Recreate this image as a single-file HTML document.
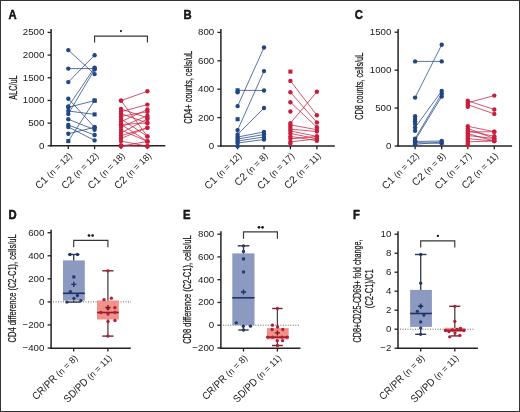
<!DOCTYPE html>
<html><head><meta charset="utf-8"><style>
html,body{margin:0;padding:0;background:#fff;}
svg{display:block;will-change:transform;}
text{font-family:"Liberation Sans", sans-serif;fill:#1a1a1a;}
.lt{stroke:#000;stroke-width:0.45;}
.yl{stroke:#1a1a1a;stroke-width:0.25;}
</style></head><body>
<svg width="520" height="412" viewBox="0 0 520 412">
<rect x="0" y="0" width="520" height="412" fill="#fff"/>
<line x1="51.1" y1="29" x2="51.1" y2="146.5" stroke="#222" stroke-width="1.5"/>
<line x1="50.4" y1="145.8" x2="165.3" y2="145.8" stroke="#222" stroke-width="1.5"/>
<line x1="68.3" y1="145.8" x2="68.3" y2="149.1" stroke="#222" stroke-width="1.3"/>
<line x1="94.6" y1="145.8" x2="94.6" y2="149.1" stroke="#222" stroke-width="1.3"/>
<line x1="121" y1="145.8" x2="121" y2="149.1" stroke="#222" stroke-width="1.3"/>
<line x1="147.4" y1="145.8" x2="147.4" y2="149.1" stroke="#222" stroke-width="1.3"/>
<line x1="220.9" y1="29" x2="220.9" y2="146.7" stroke="#222" stroke-width="1.5"/>
<line x1="220.2" y1="146" x2="334.8" y2="146" stroke="#222" stroke-width="1.5"/>
<line x1="237.6" y1="146" x2="237.6" y2="149.3" stroke="#222" stroke-width="1.3"/>
<line x1="264" y1="146" x2="264" y2="149.3" stroke="#222" stroke-width="1.3"/>
<line x1="290.4" y1="146" x2="290.4" y2="149.3" stroke="#222" stroke-width="1.3"/>
<line x1="316.9" y1="146" x2="316.9" y2="149.3" stroke="#222" stroke-width="1.3"/>
<line x1="398.1" y1="28.9" x2="398.1" y2="146.7" stroke="#222" stroke-width="1.5"/>
<line x1="397.4" y1="146" x2="512.1" y2="146" stroke="#222" stroke-width="1.5"/>
<line x1="415.1" y1="146" x2="415.1" y2="149.3" stroke="#222" stroke-width="1.3"/>
<line x1="441.7" y1="146" x2="441.7" y2="149.3" stroke="#222" stroke-width="1.3"/>
<line x1="467.8" y1="146" x2="467.8" y2="149.3" stroke="#222" stroke-width="1.3"/>
<line x1="494.3" y1="146" x2="494.3" y2="149.3" stroke="#222" stroke-width="1.3"/>
<line x1="51.1" y1="229.7" x2="51.1" y2="348.9" stroke="#222" stroke-width="1.5"/>
<line x1="50.4" y1="348.2" x2="130.8" y2="348.2" stroke="#222" stroke-width="1.5"/>
<line x1="73.7" y1="348.2" x2="73.7" y2="351.5" stroke="#222" stroke-width="1.3"/>
<line x1="107.9" y1="348.2" x2="107.9" y2="351.5" stroke="#222" stroke-width="1.3"/>
<line x1="220.9" y1="231.2" x2="220.9" y2="348.9" stroke="#222" stroke-width="1.5"/>
<line x1="220.2" y1="348.2" x2="300.5" y2="348.2" stroke="#222" stroke-width="1.5"/>
<line x1="243.5" y1="348.2" x2="243.5" y2="351.5" stroke="#222" stroke-width="1.3"/>
<line x1="277.4" y1="348.2" x2="277.4" y2="351.5" stroke="#222" stroke-width="1.3"/>
<line x1="398" y1="231.2" x2="398" y2="348.9" stroke="#222" stroke-width="1.5"/>
<line x1="397.3" y1="348.2" x2="477.9" y2="348.2" stroke="#222" stroke-width="1.5"/>
<line x1="420.7" y1="348.2" x2="420.7" y2="351.5" stroke="#222" stroke-width="1.3"/>
<line x1="454.8" y1="348.2" x2="454.8" y2="351.5" stroke="#222" stroke-width="1.3"/>
<text x="8.4" y="18.5" font-size="12.9" font-weight="bold" text-anchor="start" class="lt" textLength="8.15" lengthAdjust="spacingAndGlyphs">A</text>
<line x1="47.6" y1="145.8" x2="51.1" y2="145.8" stroke="#222" stroke-width="1.3"/>
<text x="44.4" y="148.7" font-size="9.7" text-anchor="end" >0</text>
<line x1="47.6" y1="123.12" x2="51.1" y2="123.12" stroke="#222" stroke-width="1.3"/>
<text x="44.4" y="126.02" font-size="9.7" text-anchor="end" >500</text>
<line x1="47.6" y1="100.44" x2="51.1" y2="100.44" stroke="#222" stroke-width="1.3"/>
<text x="44.4" y="103.34" font-size="9.7" text-anchor="end" >1000</text>
<line x1="47.6" y1="77.76" x2="51.1" y2="77.76" stroke="#222" stroke-width="1.3"/>
<text x="44.4" y="80.66" font-size="9.7" text-anchor="end" >1500</text>
<line x1="47.6" y1="55.08" x2="51.1" y2="55.08" stroke="#222" stroke-width="1.3"/>
<text x="44.4" y="57.98" font-size="9.7" text-anchor="end" >2000</text>
<line x1="47.6" y1="32.4" x2="51.1" y2="32.4" stroke="#222" stroke-width="1.3"/>
<text x="44.4" y="35.3" font-size="9.7" text-anchor="end" >2500</text>
<text transform="translate(16.8,87.55) rotate(-90)" font-size="10.5" text-anchor="middle" textLength="24.3" lengthAdjust="spacingAndGlyphs" class="yl">ALC/uL</text>
<path d="M94.6 42.6V36.1H147.4V42.6" fill="none" stroke="#363636" stroke-width="1.15"/>
<circle cx="120.9" cy="31.1" r="1.05" fill="#111"/>
<line x1="68.3" y1="50.1" x2="94.6" y2="74.1" stroke="#214684" stroke-width="0.75"/>
<line x1="68.3" y1="68.6" x2="94.6" y2="68.6" stroke="#214684" stroke-width="0.75"/>
<line x1="68.3" y1="82.1" x2="94.6" y2="55.2" stroke="#214684" stroke-width="0.75"/>
<line x1="68.3" y1="98.7" x2="94.6" y2="127.3" stroke="#214684" stroke-width="0.75"/>
<line x1="68.3" y1="107.3" x2="94.6" y2="100.6" stroke="#214684" stroke-width="0.75"/>
<line x1="68.3" y1="106.5" x2="94.6" y2="67.6" stroke="#214684" stroke-width="0.75"/>
<line x1="68.3" y1="113.9" x2="94.6" y2="69.5" stroke="#214684" stroke-width="0.75"/>
<line x1="68.3" y1="111" x2="94.6" y2="114.4" stroke="#214684" stroke-width="0.75"/>
<line x1="68.3" y1="119.3" x2="94.6" y2="129.7" stroke="#214684" stroke-width="0.75"/>
<line x1="68.3" y1="125" x2="94.6" y2="135" stroke="#214684" stroke-width="0.75"/>
<line x1="68.3" y1="127" x2="94.6" y2="140.4" stroke="#214684" stroke-width="0.75"/>
<line x1="68.3" y1="133.7" x2="94.6" y2="127.3" stroke="#214684" stroke-width="0.75"/>
<line x1="68.3" y1="141.1" x2="94.6" y2="100.6" stroke="#214684" stroke-width="0.75"/>
<circle cx="68.3" cy="50.1" r="2.2" fill="#214684"/>
<circle cx="94.6" cy="74.1" r="2.2" fill="#214684"/>
<circle cx="68.3" cy="68.6" r="2.2" fill="#214684"/>
<circle cx="94.6" cy="68.6" r="2.2" fill="#214684"/>
<circle cx="68.3" cy="82.1" r="2.2" fill="#214684"/>
<circle cx="94.6" cy="55.2" r="2.2" fill="#214684"/>
<circle cx="68.3" cy="98.7" r="2.2" fill="#214684"/>
<circle cx="94.6" cy="127.3" r="2.2" fill="#214684"/>
<circle cx="68.3" cy="107.3" r="2.2" fill="#214684"/>
<rect x="92.56" y="98.56" width="4.07" height="4.07" fill="#214684"/>
<circle cx="68.3" cy="106.5" r="2.2" fill="#214684"/>
<circle cx="94.6" cy="67.6" r="2.2" fill="#214684"/>
<circle cx="68.3" cy="113.9" r="2.2" fill="#214684"/>
<circle cx="94.6" cy="69.5" r="2.2" fill="#214684"/>
<circle cx="68.3" cy="111" r="2.2" fill="#214684"/>
<rect x="92.56" y="112.37" width="4.07" height="4.07" fill="#214684"/>
<circle cx="68.3" cy="119.3" r="2.2" fill="#214684"/>
<circle cx="94.6" cy="129.7" r="2.2" fill="#214684"/>
<circle cx="68.3" cy="125" r="2.2" fill="#214684"/>
<circle cx="94.6" cy="135" r="2.2" fill="#214684"/>
<circle cx="68.3" cy="127" r="2.2" fill="#214684"/>
<circle cx="94.6" cy="140.4" r="2.2" fill="#214684"/>
<circle cx="68.3" cy="133.7" r="2.2" fill="#214684"/>
<circle cx="94.6" cy="127.3" r="2.2" fill="#214684"/>
<rect x="66.27" y="139.06" width="4.07" height="4.07" fill="#214684"/>
<rect x="92.56" y="98.56" width="4.07" height="4.07" fill="#214684"/>
<line x1="121" y1="100.6" x2="147.4" y2="91.3" stroke="#c81e3e" stroke-width="0.75"/>
<line x1="121" y1="100.6" x2="147.4" y2="136.4" stroke="#c81e3e" stroke-width="0.75"/>
<line x1="121" y1="109" x2="147.4" y2="117.8" stroke="#c81e3e" stroke-width="0.75"/>
<line x1="121" y1="111.7" x2="147.4" y2="104.6" stroke="#c81e3e" stroke-width="0.75"/>
<line x1="121" y1="113.7" x2="147.4" y2="123" stroke="#c81e3e" stroke-width="0.75"/>
<line x1="121" y1="116.4" x2="147.4" y2="111.7" stroke="#c81e3e" stroke-width="0.75"/>
<line x1="121" y1="119" x2="147.4" y2="136.4" stroke="#c81e3e" stroke-width="0.75"/>
<line x1="121" y1="121.7" x2="147.4" y2="109.4" stroke="#c81e3e" stroke-width="0.75"/>
<line x1="121" y1="124.4" x2="147.4" y2="141.4" stroke="#c81e3e" stroke-width="0.75"/>
<line x1="121" y1="127" x2="147.4" y2="115.7" stroke="#c81e3e" stroke-width="0.75"/>
<line x1="121" y1="130" x2="147.4" y2="141.4" stroke="#c81e3e" stroke-width="0.75"/>
<line x1="121" y1="133" x2="147.4" y2="119" stroke="#c81e3e" stroke-width="0.75"/>
<line x1="121" y1="135.7" x2="147.4" y2="127.7" stroke="#c81e3e" stroke-width="0.75"/>
<line x1="121" y1="138.4" x2="147.4" y2="127.7" stroke="#c81e3e" stroke-width="0.75"/>
<line x1="121" y1="141.1" x2="147.4" y2="146.3" stroke="#c81e3e" stroke-width="0.75"/>
<line x1="121" y1="146.3" x2="147.4" y2="141.4" stroke="#c81e3e" stroke-width="0.75"/>
<line x1="121" y1="145.1" x2="147.4" y2="146.3" stroke="#c81e3e" stroke-width="0.75"/>
<line x1="121" y1="124.4" x2="147.4" y2="123" stroke="#c81e3e" stroke-width="0.75"/>
<circle cx="121" cy="100.6" r="2.2" fill="#c81e3e"/>
<circle cx="147.4" cy="91.3" r="2.2" fill="#c81e3e"/>
<circle cx="121" cy="100.6" r="2.2" fill="#c81e3e"/>
<circle cx="147.4" cy="136.4" r="2.2" fill="#c81e3e"/>
<circle cx="121" cy="109" r="2.2" fill="#c81e3e"/>
<circle cx="147.4" cy="117.8" r="2.2" fill="#c81e3e"/>
<circle cx="121" cy="111.7" r="2.2" fill="#c81e3e"/>
<circle cx="147.4" cy="104.6" r="2.2" fill="#c81e3e"/>
<circle cx="121" cy="113.7" r="2.2" fill="#c81e3e"/>
<circle cx="147.4" cy="123" r="2.2" fill="#c81e3e"/>
<circle cx="121" cy="116.4" r="2.2" fill="#c81e3e"/>
<circle cx="147.4" cy="111.7" r="2.2" fill="#c81e3e"/>
<circle cx="121" cy="119" r="2.2" fill="#c81e3e"/>
<circle cx="147.4" cy="136.4" r="2.2" fill="#c81e3e"/>
<circle cx="121" cy="121.7" r="2.2" fill="#c81e3e"/>
<circle cx="147.4" cy="109.4" r="2.2" fill="#c81e3e"/>
<circle cx="121" cy="124.4" r="2.2" fill="#c81e3e"/>
<circle cx="147.4" cy="141.4" r="2.2" fill="#c81e3e"/>
<circle cx="121" cy="127" r="2.2" fill="#c81e3e"/>
<circle cx="147.4" cy="115.7" r="2.2" fill="#c81e3e"/>
<circle cx="121" cy="130" r="2.2" fill="#c81e3e"/>
<circle cx="147.4" cy="141.4" r="2.2" fill="#c81e3e"/>
<circle cx="121" cy="133" r="2.2" fill="#c81e3e"/>
<circle cx="147.4" cy="119" r="2.2" fill="#c81e3e"/>
<circle cx="121" cy="135.7" r="2.2" fill="#c81e3e"/>
<circle cx="147.4" cy="127.7" r="2.2" fill="#c81e3e"/>
<circle cx="121" cy="138.4" r="2.2" fill="#c81e3e"/>
<circle cx="147.4" cy="127.7" r="2.2" fill="#c81e3e"/>
<circle cx="121" cy="141.1" r="2.2" fill="#c81e3e"/>
<circle cx="147.4" cy="146.3" r="2.2" fill="#c81e3e"/>
<circle cx="121" cy="146.3" r="2.2" fill="#c81e3e"/>
<circle cx="147.4" cy="141.4" r="2.2" fill="#c81e3e"/>
<circle cx="121" cy="145.1" r="2.2" fill="#c81e3e"/>
<circle cx="147.4" cy="146.3" r="2.2" fill="#c81e3e"/>
<circle cx="121" cy="124.4" r="2.2" fill="#c81e3e"/>
<circle cx="147.4" cy="123" r="2.2" fill="#c81e3e"/>
<g transform="translate(72.7,156.3) rotate(-45)"><text x="-47.45" y="0" font-size="10.4" textLength="16.18" lengthAdjust="spacingAndGlyphs">C1&#160;</text><text x="-31.27" y="0" font-size="9.0">(n = 12)</text></g>
<g transform="translate(99,156.3) rotate(-45)"><text x="-47.45" y="0" font-size="10.4" textLength="16.18" lengthAdjust="spacingAndGlyphs">C2&#160;</text><text x="-31.27" y="0" font-size="9.0">(n = 12)</text></g>
<g transform="translate(125.4,156.3) rotate(-45)"><text x="-47.45" y="0" font-size="10.4" textLength="16.18" lengthAdjust="spacingAndGlyphs">C1&#160;</text><text x="-31.27" y="0" font-size="9.0">(n = 18)</text></g>
<g transform="translate(151.8,156.3) rotate(-45)"><text x="-47.45" y="0" font-size="10.4" textLength="16.18" lengthAdjust="spacingAndGlyphs">C2&#160;</text><text x="-31.27" y="0" font-size="9.0">(n = 18)</text></g>
<text x="183.4" y="18.5" font-size="12.9" font-weight="bold" text-anchor="start" class="lt" textLength="8.15" lengthAdjust="spacingAndGlyphs">B</text>
<line x1="217.4" y1="146" x2="220.9" y2="146" stroke="#222" stroke-width="1.3"/>
<text x="214.2" y="148.9" font-size="9.7" text-anchor="end" >0</text>
<line x1="217.4" y1="117.6" x2="220.9" y2="117.6" stroke="#222" stroke-width="1.3"/>
<text x="214.2" y="120.5" font-size="9.7" text-anchor="end" >200</text>
<line x1="217.4" y1="89.2" x2="220.9" y2="89.2" stroke="#222" stroke-width="1.3"/>
<text x="214.2" y="92.1" font-size="9.7" text-anchor="end" >400</text>
<line x1="217.4" y1="60.8" x2="220.9" y2="60.8" stroke="#222" stroke-width="1.3"/>
<text x="214.2" y="63.7" font-size="9.7" text-anchor="end" >600</text>
<line x1="217.4" y1="32.4" x2="220.9" y2="32.4" stroke="#222" stroke-width="1.3"/>
<text x="214.2" y="35.3" font-size="9.7" text-anchor="end" >800</text>
<text transform="translate(191.5,87.3) rotate(-90)" font-size="10.5" text-anchor="middle" textLength="72.7" lengthAdjust="spacingAndGlyphs" class="yl">CD4+ counts, cells/uL</text>
<line x1="237.6" y1="106.1" x2="264" y2="47.5" stroke="#214684" stroke-width="0.75"/>
<line x1="237.6" y1="130.1" x2="264" y2="71.1" stroke="#214684" stroke-width="0.75"/>
<line x1="237.6" y1="134.5" x2="264" y2="108" stroke="#214684" stroke-width="0.75"/>
<line x1="237.6" y1="90.3" x2="264" y2="90.5" stroke="#214684" stroke-width="0.75"/>
<line x1="237.6" y1="137" x2="264" y2="132" stroke="#214684" stroke-width="0.75"/>
<line x1="237.6" y1="139" x2="264" y2="134.5" stroke="#214684" stroke-width="0.75"/>
<line x1="237.6" y1="141" x2="264" y2="137" stroke="#214684" stroke-width="0.75"/>
<line x1="237.6" y1="143" x2="264" y2="139.5" stroke="#214684" stroke-width="0.75"/>
<circle cx="237.6" cy="106.1" r="2.2" fill="#214684"/>
<circle cx="264" cy="47.5" r="2.2" fill="#214684"/>
<circle cx="237.6" cy="130.1" r="2.2" fill="#214684"/>
<circle cx="264" cy="71.1" r="2.2" fill="#214684"/>
<circle cx="237.6" cy="134.5" r="2.2" fill="#214684"/>
<circle cx="264" cy="108" r="2.2" fill="#214684"/>
<rect x="235.56" y="88.27" width="4.07" height="4.07" fill="#214684"/>
<circle cx="264" cy="90.5" r="2.2" fill="#214684"/>
<circle cx="237.6" cy="92.2" r="2.2" fill="#214684"/>
<rect x="235.56" y="117.17" width="4.07" height="4.07" fill="#214684"/>
<circle cx="237.6" cy="137" r="2.2" fill="#214684"/>
<circle cx="264" cy="132" r="2.2" fill="#214684"/>
<circle cx="237.6" cy="139" r="2.2" fill="#214684"/>
<circle cx="264" cy="134.5" r="2.2" fill="#214684"/>
<circle cx="237.6" cy="141" r="2.2" fill="#214684"/>
<circle cx="264" cy="137" r="2.2" fill="#214684"/>
<circle cx="237.6" cy="143" r="2.2" fill="#214684"/>
<circle cx="264" cy="139.5" r="2.2" fill="#214684"/>
<circle cx="237.6" cy="146.2" r="2.2" fill="#214684"/>
<line x1="290.4" y1="80.9" x2="316.9" y2="115.2" stroke="#c81e3e" stroke-width="0.75"/>
<line x1="290.4" y1="92.2" x2="316.9" y2="122.5" stroke="#c81e3e" stroke-width="0.75"/>
<line x1="290.4" y1="102.2" x2="316.9" y2="127.3" stroke="#c81e3e" stroke-width="0.75"/>
<line x1="290.4" y1="123.1" x2="316.9" y2="91.8" stroke="#c81e3e" stroke-width="0.75"/>
<line x1="290.4" y1="124.9" x2="316.9" y2="129.7" stroke="#c81e3e" stroke-width="0.75"/>
<line x1="290.4" y1="129.1" x2="316.9" y2="131.6" stroke="#c81e3e" stroke-width="0.75"/>
<line x1="290.4" y1="130.9" x2="316.9" y2="136.4" stroke="#c81e3e" stroke-width="0.75"/>
<line x1="290.4" y1="133.4" x2="316.9" y2="138.8" stroke="#c81e3e" stroke-width="0.75"/>
<line x1="290.4" y1="136.4" x2="316.9" y2="140.7" stroke="#c81e3e" stroke-width="0.75"/>
<line x1="290.4" y1="138.8" x2="316.9" y2="136.4" stroke="#c81e3e" stroke-width="0.75"/>
<line x1="290.4" y1="141.9" x2="316.9" y2="138.8" stroke="#c81e3e" stroke-width="0.75"/>
<rect x="288.36" y="69.56" width="4.07" height="4.07" fill="#c81e3e"/>
<circle cx="290.4" cy="80.9" r="2.2" fill="#c81e3e"/>
<circle cx="316.9" cy="115.2" r="2.2" fill="#c81e3e"/>
<circle cx="290.4" cy="92.2" r="2.2" fill="#c81e3e"/>
<circle cx="316.9" cy="122.5" r="2.2" fill="#c81e3e"/>
<circle cx="290.4" cy="102.2" r="2.2" fill="#c81e3e"/>
<circle cx="316.9" cy="127.3" r="2.2" fill="#c81e3e"/>
<circle cx="290.4" cy="111.5" r="2.2" fill="#c81e3e"/>
<circle cx="290.4" cy="123.1" r="2.2" fill="#c81e3e"/>
<circle cx="316.9" cy="91.8" r="2.2" fill="#c81e3e"/>
<circle cx="290.4" cy="124.9" r="2.2" fill="#c81e3e"/>
<circle cx="316.9" cy="129.7" r="2.2" fill="#c81e3e"/>
<circle cx="290.4" cy="129.1" r="2.2" fill="#c81e3e"/>
<circle cx="316.9" cy="131.6" r="2.2" fill="#c81e3e"/>
<circle cx="290.4" cy="130.9" r="2.2" fill="#c81e3e"/>
<circle cx="316.9" cy="136.4" r="2.2" fill="#c81e3e"/>
<circle cx="290.4" cy="133.4" r="2.2" fill="#c81e3e"/>
<circle cx="316.9" cy="138.8" r="2.2" fill="#c81e3e"/>
<circle cx="290.4" cy="136.4" r="2.2" fill="#c81e3e"/>
<circle cx="316.9" cy="140.7" r="2.2" fill="#c81e3e"/>
<circle cx="290.4" cy="138.8" r="2.2" fill="#c81e3e"/>
<circle cx="316.9" cy="136.4" r="2.2" fill="#c81e3e"/>
<circle cx="290.4" cy="141.9" r="2.2" fill="#c81e3e"/>
<circle cx="316.9" cy="138.8" r="2.2" fill="#c81e3e"/>
<circle cx="290.4" cy="127" r="2.2" fill="#c81e3e"/>
<circle cx="290.4" cy="143.5" r="2.2" fill="#c81e3e"/>
<g transform="translate(242,156.5) rotate(-45)"><text x="-47.45" y="0" font-size="10.4" textLength="16.18" lengthAdjust="spacingAndGlyphs">C1&#160;</text><text x="-31.27" y="0" font-size="9.0">(n = 12)</text></g>
<g transform="translate(268.4,156.5) rotate(-45)"><text x="-42.44" y="0" font-size="10.4" textLength="16.18" lengthAdjust="spacingAndGlyphs">C2&#160;</text><text x="-26.26" y="0" font-size="9.0">(n = 8)</text></g>
<g transform="translate(294.8,156.5) rotate(-45)"><text x="-47.45" y="0" font-size="10.4" textLength="16.18" lengthAdjust="spacingAndGlyphs">C1&#160;</text><text x="-31.27" y="0" font-size="9.0">(n = 17)</text></g>
<g transform="translate(321.3,156.5) rotate(-45)"><text x="-46.78" y="0" font-size="10.4" textLength="16.18" lengthAdjust="spacingAndGlyphs">C2&#160;</text><text x="-30.6" y="0" font-size="9.0">(n = 11)</text></g>
<text x="354.8" y="18.5" font-size="12.9" font-weight="bold" text-anchor="start" class="lt" textLength="8.15" lengthAdjust="spacingAndGlyphs">C</text>
<line x1="394.6" y1="146" x2="398.1" y2="146" stroke="#222" stroke-width="1.3"/>
<text x="391.4" y="148.9" font-size="9.7" text-anchor="end" >0</text>
<line x1="394.6" y1="108.07" x2="398.1" y2="108.07" stroke="#222" stroke-width="1.3"/>
<text x="391.4" y="110.97" font-size="9.7" text-anchor="end" >500</text>
<line x1="394.6" y1="70.13" x2="398.1" y2="70.13" stroke="#222" stroke-width="1.3"/>
<text x="391.4" y="73.03" font-size="9.7" text-anchor="end" >1000</text>
<line x1="394.6" y1="32.2" x2="398.1" y2="32.2" stroke="#222" stroke-width="1.3"/>
<text x="391.4" y="35.1" font-size="9.7" text-anchor="end" >1500</text>
<text transform="translate(363.3,86.3) rotate(-90)" font-size="10.5" text-anchor="middle" textLength="67" lengthAdjust="spacingAndGlyphs" class="yl">CD8 counts, cells/uL</text>
<line x1="415.1" y1="61.4" x2="441.7" y2="61.4" stroke="#214684" stroke-width="0.75"/>
<line x1="415.1" y1="97.6" x2="441.7" y2="44.8" stroke="#214684" stroke-width="0.75"/>
<line x1="415.1" y1="127.6" x2="441.7" y2="91" stroke="#214684" stroke-width="0.75"/>
<line x1="415.1" y1="138.6" x2="441.7" y2="93.7" stroke="#214684" stroke-width="0.75"/>
<line x1="415.1" y1="140.2" x2="441.7" y2="96.5" stroke="#214684" stroke-width="0.75"/>
<line x1="415.1" y1="141.5" x2="441.7" y2="141" stroke="#214684" stroke-width="0.75"/>
<line x1="415.1" y1="142.6" x2="441.7" y2="143.4" stroke="#214684" stroke-width="0.75"/>
<line x1="415.1" y1="144.3" x2="441.7" y2="142" stroke="#214684" stroke-width="0.75"/>
<circle cx="415.1" cy="61.4" r="2.2" fill="#214684"/>
<circle cx="441.7" cy="61.4" r="2.2" fill="#214684"/>
<circle cx="415.1" cy="97.6" r="2.2" fill="#214684"/>
<circle cx="441.7" cy="44.8" r="2.2" fill="#214684"/>
<circle cx="415.1" cy="116.2" r="2.2" fill="#214684"/>
<circle cx="415.1" cy="118.9" r="2.2" fill="#214684"/>
<circle cx="415.1" cy="121.3" r="2.2" fill="#214684"/>
<circle cx="415.1" cy="124" r="2.2" fill="#214684"/>
<circle cx="415.1" cy="127.6" r="2.2" fill="#214684"/>
<circle cx="441.7" cy="91" r="2.2" fill="#214684"/>
<circle cx="415.1" cy="130.8" r="2.2" fill="#214684"/>
<circle cx="415.1" cy="138.6" r="2.2" fill="#214684"/>
<circle cx="441.7" cy="93.7" r="2.2" fill="#214684"/>
<circle cx="415.1" cy="140.2" r="2.2" fill="#214684"/>
<circle cx="441.7" cy="96.5" r="2.2" fill="#214684"/>
<circle cx="415.1" cy="141.5" r="2.2" fill="#214684"/>
<circle cx="441.7" cy="141" r="2.2" fill="#214684"/>
<circle cx="415.1" cy="142.6" r="2.2" fill="#214684"/>
<circle cx="441.7" cy="143.4" r="2.2" fill="#214684"/>
<circle cx="415.1" cy="144.3" r="2.2" fill="#214684"/>
<circle cx="441.7" cy="142" r="2.2" fill="#214684"/>
<line x1="467.8" y1="100.8" x2="494.3" y2="109.5" stroke="#c81e3e" stroke-width="0.75"/>
<line x1="467.8" y1="102.7" x2="494.3" y2="95.6" stroke="#c81e3e" stroke-width="0.75"/>
<line x1="467.8" y1="104.7" x2="494.3" y2="113.9" stroke="#c81e3e" stroke-width="0.75"/>
<line x1="467.8" y1="126.3" x2="494.3" y2="131.7" stroke="#c81e3e" stroke-width="0.75"/>
<line x1="467.8" y1="128.4" x2="494.3" y2="138.6" stroke="#c81e3e" stroke-width="0.75"/>
<line x1="467.8" y1="130.8" x2="494.3" y2="136.3" stroke="#c81e3e" stroke-width="0.75"/>
<line x1="467.8" y1="132" x2="494.3" y2="131.7" stroke="#c81e3e" stroke-width="0.75"/>
<line x1="467.8" y1="133.6" x2="494.3" y2="141" stroke="#c81e3e" stroke-width="0.75"/>
<line x1="467.8" y1="135.5" x2="494.3" y2="138.6" stroke="#c81e3e" stroke-width="0.75"/>
<line x1="467.8" y1="138.6" x2="494.3" y2="141" stroke="#c81e3e" stroke-width="0.75"/>
<line x1="467.8" y1="141.8" x2="494.3" y2="141" stroke="#c81e3e" stroke-width="0.75"/>
<circle cx="467.8" cy="100.8" r="2.2" fill="#c81e3e"/>
<circle cx="494.3" cy="109.5" r="2.2" fill="#c81e3e"/>
<circle cx="467.8" cy="102.7" r="2.2" fill="#c81e3e"/>
<circle cx="494.3" cy="95.6" r="2.2" fill="#c81e3e"/>
<circle cx="467.8" cy="104.7" r="2.2" fill="#c81e3e"/>
<circle cx="494.3" cy="113.9" r="2.2" fill="#c81e3e"/>
<circle cx="467.8" cy="106.8" r="2.2" fill="#c81e3e"/>
<circle cx="467.8" cy="126.3" r="2.2" fill="#c81e3e"/>
<circle cx="494.3" cy="131.7" r="2.2" fill="#c81e3e"/>
<circle cx="467.8" cy="128.4" r="2.2" fill="#c81e3e"/>
<circle cx="494.3" cy="138.6" r="2.2" fill="#c81e3e"/>
<circle cx="467.8" cy="130.8" r="2.2" fill="#c81e3e"/>
<circle cx="494.3" cy="136.3" r="2.2" fill="#c81e3e"/>
<circle cx="467.8" cy="132" r="2.2" fill="#c81e3e"/>
<circle cx="494.3" cy="131.7" r="2.2" fill="#c81e3e"/>
<circle cx="467.8" cy="133.6" r="2.2" fill="#c81e3e"/>
<circle cx="494.3" cy="141" r="2.2" fill="#c81e3e"/>
<circle cx="467.8" cy="135.5" r="2.2" fill="#c81e3e"/>
<circle cx="494.3" cy="138.6" r="2.2" fill="#c81e3e"/>
<circle cx="467.8" cy="138.6" r="2.2" fill="#c81e3e"/>
<circle cx="494.3" cy="141" r="2.2" fill="#c81e3e"/>
<circle cx="467.8" cy="141.8" r="2.2" fill="#c81e3e"/>
<circle cx="494.3" cy="141" r="2.2" fill="#c81e3e"/>
<circle cx="467.8" cy="145" r="2.2" fill="#c81e3e"/>
<circle cx="467.8" cy="143.4" r="2.2" fill="#c81e3e"/>
<circle cx="467.8" cy="137" r="2.2" fill="#c81e3e"/>
<circle cx="467.8" cy="140" r="2.2" fill="#c81e3e"/>
<g transform="translate(419.5,156.5) rotate(-45)"><text x="-47.45" y="0" font-size="10.4" textLength="16.18" lengthAdjust="spacingAndGlyphs">C1&#160;</text><text x="-31.27" y="0" font-size="9.0">(n = 12)</text></g>
<g transform="translate(446.1,156.5) rotate(-45)"><text x="-42.44" y="0" font-size="10.4" textLength="16.18" lengthAdjust="spacingAndGlyphs">C2&#160;</text><text x="-26.26" y="0" font-size="9.0">(n = 8)</text></g>
<g transform="translate(472.2,156.5) rotate(-45)"><text x="-47.45" y="0" font-size="10.4" textLength="16.18" lengthAdjust="spacingAndGlyphs">C1&#160;</text><text x="-31.27" y="0" font-size="9.0">(n = 17)</text></g>
<g transform="translate(498.7,156.5) rotate(-45)"><text x="-46.78" y="0" font-size="10.4" textLength="16.18" lengthAdjust="spacingAndGlyphs">C2&#160;</text><text x="-30.6" y="0" font-size="9.0">(n = 11)</text></g>
<text x="8.4" y="218.5" font-size="12.9" font-weight="bold" text-anchor="start" class="lt" textLength="8.15" lengthAdjust="spacingAndGlyphs">D</text>
<line x1="47.6" y1="348.02" x2="51.1" y2="348.02" stroke="#222" stroke-width="1.3"/>
<text x="44.4" y="350.92" font-size="9.7" text-anchor="end" >&#8722;400</text>
<line x1="47.6" y1="324.96" x2="51.1" y2="324.96" stroke="#222" stroke-width="1.3"/>
<text x="44.4" y="327.86" font-size="9.7" text-anchor="end" >&#8722;200</text>
<line x1="47.6" y1="301.9" x2="51.1" y2="301.9" stroke="#222" stroke-width="1.3"/>
<text x="44.4" y="304.8" font-size="9.7" text-anchor="end" >0</text>
<line x1="47.6" y1="278.84" x2="51.1" y2="278.84" stroke="#222" stroke-width="1.3"/>
<text x="44.4" y="281.74" font-size="9.7" text-anchor="end" >200</text>
<line x1="47.6" y1="255.78" x2="51.1" y2="255.78" stroke="#222" stroke-width="1.3"/>
<text x="44.4" y="258.68" font-size="9.7" text-anchor="end" >400</text>
<line x1="47.6" y1="232.72" x2="51.1" y2="232.72" stroke="#222" stroke-width="1.3"/>
<text x="44.4" y="235.62" font-size="9.7" text-anchor="end" >600</text>
<text transform="translate(16.1,288.4) rotate(-90)" font-size="10.5" text-anchor="middle" textLength="108" lengthAdjust="spacingAndGlyphs" class="yl">CD4 difference (C2-C1), cells/uL</text>
<line x1="53" y1="301.9" x2="131" y2="301.9" stroke="#555" stroke-width="0.9" stroke-dasharray="1 1.5"/>
<line x1="73.7" y1="254.5" x2="73.7" y2="302.1" stroke="#30384a" stroke-width="1.3"/>
<line x1="67.9" y1="254.5" x2="79.5" y2="254.5" stroke="#30384a" stroke-width="1.4"/>
<line x1="66.7" y1="302.1" x2="80.7" y2="302.1" stroke="#30384a" stroke-width="1.4"/>
<rect x="63" y="260.4" width="21.8" height="40.2" fill="#8c9ac2"/>
<line x1="63" y1="293.3" x2="84.8" y2="293.3" stroke="#1c3565" stroke-width="1.6"/>
<circle cx="70" cy="254.5" r="1.65" fill="#22396a"/>
<circle cx="77.5" cy="254.5" r="1.65" fill="#22396a"/>
<circle cx="70.4" cy="291.6" r="1.65" fill="#22396a"/>
<circle cx="77.4" cy="295.5" r="1.65" fill="#22396a"/>
<circle cx="73.9" cy="298.3" r="1.65" fill="#22396a"/>
<circle cx="66.9" cy="302.1" r="1.65" fill="#22396a"/>
<circle cx="80.9" cy="300.6" r="1.65" fill="#22396a"/>
<rect x="72.27" y="275.37" width="3.05" height="3.05" fill="#22396a"/>
<path d="M71.2 284.4H76.4M73.8 281.8V287" stroke="#1c3565" stroke-width="1.4"/>
<line x1="107.9" y1="270.8" x2="107.9" y2="336.1" stroke="#4a4446" stroke-width="1.3"/>
<line x1="102.25" y1="270.8" x2="113.55" y2="270.8" stroke="#6e2a33" stroke-width="1.4"/>
<line x1="102.25" y1="336.1" x2="113.55" y2="336.1" stroke="#6e2a33" stroke-width="1.4"/>
<rect x="97" y="300.5" width="21.8" height="19" fill="#f0928a"/>
<line x1="97" y1="312.5" x2="118.8" y2="312.5" stroke="#8c1c20" stroke-width="1.6"/>
<circle cx="107.9" cy="270.8" r="1.65" fill="#b31d36"/>
<circle cx="104" cy="299.7" r="1.65" fill="#b31d36"/>
<circle cx="111.4" cy="298.2" r="1.65" fill="#b31d36"/>
<circle cx="108" cy="308.8" r="1.65" fill="#b31d36"/>
<circle cx="114.9" cy="307.7" r="1.65" fill="#b31d36"/>
<circle cx="100.9" cy="312.5" r="1.65" fill="#b31d36"/>
<circle cx="108" cy="314" r="1.65" fill="#b31d36"/>
<circle cx="115" cy="312.5" r="1.65" fill="#b31d36"/>
<circle cx="108" cy="321.5" r="1.65" fill="#b31d36"/>
<circle cx="115" cy="320.5" r="1.65" fill="#b31d36"/>
<circle cx="107.9" cy="336.1" r="1.65" fill="#b31d36"/>
<path d="M105.3 307.5H110.5M107.9 304.9V310.1" stroke="#7a1a1a" stroke-width="1.4"/>
<path d="M73.7 247.2V240.4H107.9V247.2" fill="none" stroke="#363636" stroke-width="1.15"/>
<circle cx="89" cy="235.5" r="1.35" fill="#111"/>
<circle cx="92.6" cy="235.5" r="1.35" fill="#111"/>
<g transform="translate(78.1,358.7) rotate(-45)"><text x="-59.04" y="0" font-size="10.4" textLength="32.78" lengthAdjust="spacingAndGlyphs">CR/PR&#160;</text><text x="-26.26" y="0" font-size="9.0">(n = 8)</text></g>
<g transform="translate(112.3,358.7) rotate(-45)"><text x="-62.84" y="0" font-size="10.4" textLength="32.25" lengthAdjust="spacingAndGlyphs">SD/PD&#160;</text><text x="-30.6" y="0" font-size="9.0">(n = 11)</text></g>
<text x="183.1" y="218.5" font-size="12.9" font-weight="bold" text-anchor="start" class="lt" textLength="7.53" lengthAdjust="spacingAndGlyphs">E</text>
<line x1="217.4" y1="347.96" x2="220.9" y2="347.96" stroke="#222" stroke-width="1.3"/>
<text x="214.2" y="350.86" font-size="9.7" text-anchor="end" >&#8722;200</text>
<line x1="217.4" y1="325.2" x2="220.9" y2="325.2" stroke="#222" stroke-width="1.3"/>
<text x="214.2" y="328.1" font-size="9.7" text-anchor="end" >0</text>
<line x1="217.4" y1="302.44" x2="220.9" y2="302.44" stroke="#222" stroke-width="1.3"/>
<text x="214.2" y="305.34" font-size="9.7" text-anchor="end" >200</text>
<line x1="217.4" y1="279.68" x2="220.9" y2="279.68" stroke="#222" stroke-width="1.3"/>
<text x="214.2" y="282.58" font-size="9.7" text-anchor="end" >400</text>
<line x1="217.4" y1="256.92" x2="220.9" y2="256.92" stroke="#222" stroke-width="1.3"/>
<text x="214.2" y="259.82" font-size="9.7" text-anchor="end" >600</text>
<line x1="217.4" y1="234.16" x2="220.9" y2="234.16" stroke="#222" stroke-width="1.3"/>
<text x="214.2" y="237.06" font-size="9.7" text-anchor="end" >800</text>
<text transform="translate(191.3,289.6) rotate(-90)" font-size="10.5" text-anchor="middle" textLength="108.5" lengthAdjust="spacingAndGlyphs" class="yl">CD8 difference (C2-C1), cells/uL</text>
<line x1="222.8" y1="325.2" x2="300" y2="325.2" stroke="#555" stroke-width="0.9" stroke-dasharray="1 1.5"/>
<line x1="243.5" y1="245.8" x2="243.5" y2="330" stroke="#30384a" stroke-width="1.3"/>
<line x1="237.65" y1="245.8" x2="249.35" y2="245.8" stroke="#30384a" stroke-width="1.4"/>
<line x1="238.35" y1="330" x2="248.65" y2="330" stroke="#30384a" stroke-width="1.4"/>
<rect x="232.3" y="253.4" width="22.2" height="71.8" fill="#8c9ac2"/>
<line x1="232.3" y1="297.8" x2="254.5" y2="297.8" stroke="#1c3565" stroke-width="1.6"/>
<circle cx="243.5" cy="245.8" r="1.65" fill="#22396a"/>
<circle cx="243.5" cy="251.4" r="1.65" fill="#22396a"/>
<circle cx="243.5" cy="272" r="1.65" fill="#22396a"/>
<circle cx="236.3" cy="322.8" r="1.65" fill="#22396a"/>
<circle cx="243.3" cy="326.2" r="1.65" fill="#22396a"/>
<circle cx="250.5" cy="326.2" r="1.65" fill="#22396a"/>
<circle cx="243.5" cy="330" r="1.65" fill="#22396a"/>
<rect x="241.97" y="257.37" width="3.05" height="3.05" fill="#22396a"/>
<path d="M240.9 292H246.1M243.5 289.4V294.6" stroke="#1c3565" stroke-width="1.4"/>
<line x1="277.4" y1="308.5" x2="277.4" y2="345.5" stroke="#4a4446" stroke-width="1.3"/>
<line x1="272.15" y1="308.5" x2="282.65" y2="308.5" stroke="#6e2a33" stroke-width="1.4"/>
<line x1="271.95" y1="345.5" x2="282.85" y2="345.5" stroke="#6e2a33" stroke-width="1.4"/>
<rect x="266.9" y="328.1" width="21.8" height="11.3" fill="#f0928a"/>
<line x1="266.9" y1="337.2" x2="288.7" y2="337.2" stroke="#8c1c20" stroke-width="1.6"/>
<circle cx="277.4" cy="308.5" r="1.65" fill="#b31d36"/>
<circle cx="272.5" cy="325.2" r="1.65" fill="#b31d36"/>
<circle cx="277.6" cy="327" r="1.65" fill="#b31d36"/>
<circle cx="272.1" cy="329.5" r="1.65" fill="#b31d36"/>
<circle cx="282.8" cy="329.5" r="1.65" fill="#b31d36"/>
<circle cx="267.7" cy="337.2" r="1.65" fill="#b31d36"/>
<circle cx="272.6" cy="337.2" r="1.65" fill="#b31d36"/>
<circle cx="282" cy="337.2" r="1.65" fill="#b31d36"/>
<circle cx="287" cy="337.2" r="1.65" fill="#b31d36"/>
<circle cx="277.2" cy="340.7" r="1.65" fill="#b31d36"/>
<circle cx="282.6" cy="340.7" r="1.65" fill="#b31d36"/>
<circle cx="277.4" cy="345.5" r="1.65" fill="#b31d36"/>
<path d="M274.8 332.9H280M277.4 330.3V335.5" stroke="#7a1a1a" stroke-width="1.4"/>
<path d="M243.5 238.8V231.8H277.4V238.8" fill="none" stroke="#363636" stroke-width="1.15"/>
<circle cx="259" cy="227.3" r="1.35" fill="#111"/>
<circle cx="262.5" cy="227.3" r="1.35" fill="#111"/>
<g transform="translate(247.9,358.7) rotate(-45)"><text x="-59.04" y="0" font-size="10.4" textLength="32.78" lengthAdjust="spacingAndGlyphs">CR/PR&#160;</text><text x="-26.26" y="0" font-size="9.0">(n = 8)</text></g>
<g transform="translate(281.8,358.7) rotate(-45)"><text x="-62.84" y="0" font-size="10.4" textLength="32.25" lengthAdjust="spacingAndGlyphs">SD/PD&#160;</text><text x="-30.6" y="0" font-size="9.0">(n = 11)</text></g>
<text x="353" y="218.5" font-size="12.9" font-weight="bold" text-anchor="start" class="lt" textLength="6.89" lengthAdjust="spacingAndGlyphs">F</text>
<line x1="394.5" y1="348.2" x2="398" y2="348.2" stroke="#222" stroke-width="1.3"/>
<text x="391.3" y="351.1" font-size="9.7" text-anchor="end" >&#8722;2</text>
<line x1="394.5" y1="329.2" x2="398" y2="329.2" stroke="#222" stroke-width="1.3"/>
<text x="391.3" y="332.1" font-size="9.7" text-anchor="end" >0</text>
<line x1="394.5" y1="310.2" x2="398" y2="310.2" stroke="#222" stroke-width="1.3"/>
<text x="391.3" y="313.1" font-size="9.7" text-anchor="end" >2</text>
<line x1="394.5" y1="291.2" x2="398" y2="291.2" stroke="#222" stroke-width="1.3"/>
<text x="391.3" y="294.1" font-size="9.7" text-anchor="end" >4</text>
<line x1="394.5" y1="272.2" x2="398" y2="272.2" stroke="#222" stroke-width="1.3"/>
<text x="391.3" y="275.1" font-size="9.7" text-anchor="end" >6</text>
<line x1="394.5" y1="253.2" x2="398" y2="253.2" stroke="#222" stroke-width="1.3"/>
<text x="391.3" y="256.1" font-size="9.7" text-anchor="end" >8</text>
<line x1="394.5" y1="234.2" x2="398" y2="234.2" stroke="#222" stroke-width="1.3"/>
<text x="391.3" y="237.1" font-size="9.7" text-anchor="end" >10</text>
<text transform="translate(361,290.9) rotate(-90)" font-size="10.5" text-anchor="middle" textLength="103" lengthAdjust="spacingAndGlyphs" class="yl">CD8+CD25-CD69+ fold change,</text>
<text transform="translate(373.4,288.7) rotate(-90)" font-size="10.5" text-anchor="middle" textLength="39" lengthAdjust="spacingAndGlyphs" class="yl">(C2-C1)/C1</text>
<line x1="400" y1="329.2" x2="475" y2="329.2" stroke="#555" stroke-width="0.9" stroke-dasharray="1 1.5"/>
<line x1="420.7" y1="254.5" x2="420.7" y2="334.3" stroke="#30384a" stroke-width="1.3"/>
<line x1="414.95" y1="254.5" x2="426.45" y2="254.5" stroke="#30384a" stroke-width="1.4"/>
<line x1="415.2" y1="334.3" x2="426.2" y2="334.3" stroke="#30384a" stroke-width="1.4"/>
<rect x="410.1" y="289.9" width="21.8" height="37" fill="#8c9ac2"/>
<line x1="410.1" y1="313.5" x2="431.9" y2="313.5" stroke="#1c3565" stroke-width="1.6"/>
<circle cx="420.7" cy="254.5" r="1.65" fill="#22396a"/>
<circle cx="420.7" cy="283.2" r="1.65" fill="#22396a"/>
<circle cx="420.7" cy="306.2" r="1.65" fill="#22396a"/>
<circle cx="417.4" cy="311.3" r="1.65" fill="#22396a"/>
<circle cx="423.9" cy="315" r="1.65" fill="#22396a"/>
<circle cx="420.7" cy="321.9" r="1.65" fill="#22396a"/>
<circle cx="420.7" cy="328.1" r="1.65" fill="#22396a"/>
<circle cx="420.7" cy="334.3" r="1.65" fill="#22396a"/>
<path d="M418.1 306.2H423.3M420.7 303.6V308.8" stroke="#1c3565" stroke-width="1.4"/>
<line x1="454.8" y1="306.3" x2="454.8" y2="335.9" stroke="#4a4446" stroke-width="1.3"/>
<line x1="449.3" y1="306.3" x2="460.3" y2="306.3" stroke="#6e2a33" stroke-width="1.4"/>
<line x1="450.7" y1="335.9" x2="458.9" y2="335.9" stroke="#6e2a33" stroke-width="1.4"/>
<rect x="444.5" y="327.8" width="20.3" height="4.2" fill="#f0928a"/>
<line x1="444.5" y1="330.3" x2="464.8" y2="330.3" stroke="#8c1c20" stroke-width="1.6"/>
<circle cx="454.8" cy="306.3" r="1.65" fill="#b31d36"/>
<circle cx="454.8" cy="321.3" r="1.65" fill="#b31d36"/>
<circle cx="445.5" cy="330.5" r="1.65" fill="#b31d36"/>
<circle cx="449" cy="331.5" r="1.65" fill="#b31d36"/>
<circle cx="452.5" cy="330" r="1.65" fill="#b31d36"/>
<circle cx="457" cy="329.5" r="1.65" fill="#b31d36"/>
<circle cx="460.5" cy="328.5" r="1.65" fill="#b31d36"/>
<circle cx="464" cy="330.5" r="1.65" fill="#b31d36"/>
<circle cx="449.7" cy="336.8" r="1.65" fill="#b31d36"/>
<circle cx="455" cy="333" r="1.65" fill="#b31d36"/>
<circle cx="459.9" cy="335.4" r="1.65" fill="#b31d36"/>
<path d="M420.7 247.5V240.9H454.8V247.5" fill="none" stroke="#363636" stroke-width="1.15"/>
<circle cx="437.9" cy="235.9" r="1.15" fill="#111"/>
<g transform="translate(425.1,358.7) rotate(-45)"><text x="-59.04" y="0" font-size="10.4" textLength="32.78" lengthAdjust="spacingAndGlyphs">CR/PR&#160;</text><text x="-26.26" y="0" font-size="9.0">(n = 8)</text></g>
<g transform="translate(459.2,358.7) rotate(-45)"><text x="-62.84" y="0" font-size="10.4" textLength="32.25" lengthAdjust="spacingAndGlyphs">SD/PD&#160;</text><text x="-30.6" y="0" font-size="9.0">(n = 11)</text></g>
<rect x="0.5" y="0.5" width="519" height="411" fill="none" stroke="#333" stroke-width="1"/>
</svg>
</body></html>
